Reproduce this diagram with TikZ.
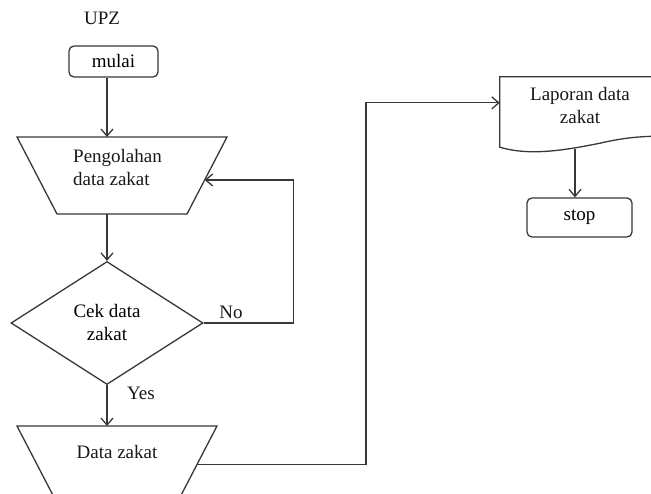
\documentclass[tikz,border=0pt]{standalone}
\usepackage{fontspec}
\setmainfont{Liberation Serif}
\usetikzlibrary{arrows.meta,calc,shapes.geometric}
\begin{document}
\begin{tikzpicture}[x=1pt,y=-1pt,
  line/.style={draw=black!78,line width=1.3pt},
  arr/.style={line,-{Straight Barb[length=7pt,width=12pt]}},
  txt/.style={font=\fontsize{19}{23}\selectfont,text=black!90,inner sep=0pt},
  term/.style={line,rounded corners=5pt,minimum width=#1,minimum height=31pt,inner sep=0pt,font=\fontsize{19}{23}\selectfont},
  box/.style={minimum width=#1,minimum height=77pt,inner sep=0pt,outer sep=0pt},
  dia/.style={line,diamond,inner sep=0pt,minimum width=192pt,minimum height=123pt,align=center,font=\fontsize{19}{23}\selectfont}
]
\useasboundingbox (0,0) rectangle (651,494);
\clip (0,0) rectangle (651,494);
\fill[white] (0,0) rectangle (651,494);

\node[txt] (upz) at (102,18) {UPZ};
\node[term=89pt] (mulai) at (113.5,61.5) {mulai};

% Pengolahan data zakat (inverted trapezoid)
\node[box=210pt] (pg) at (122,175.5) {};
\coordinate (pgbr) at ($(pg.south east)+(-40,0)$);
\coordinate (pgbl) at ($(pg.south west)+(40,0)$);
\path[line] (pg.north west) -- (pg.north east) -- (pgbr) -- (pgbl) -- cycle;
\coordinate (pgin) at ($(pg.north east)!0.558!(pgbr)$);
\node[txt,anchor=west,align=left] (pgt) at (73,168) {Pengolahan\\data zakat};

\node[dia] (dec) at (107,323) {Cek data\\zakat};

% Data zakat (inverted trapezoid, cut off by the page)
\node[box=200pt] (dz) at (117,464.5) {};
\coordinate (dzbr) at ($(dz.south east)+(-40,0)$);
\coordinate (dzbl) at ($(dz.south west)+(40,0)$);
\path[line] (dz.north west) -- (dz.north east) -- (dzbr) -- (dzbl) -- cycle;
\coordinate (dzout) at ($(dz.north east)!0.5!(dzbr)$);
\node[txt] (dzt) at (117,452) {Data zakat};

% Laporan data zakat (document)
\node[minimum width=160pt,minimum height=70pt,inner sep=0pt] (doc) at (580,112) {};
\path[line] (doc.south west) -- (doc.north west) -- (doc.north east) -- ($(doc.south east)+(0,-11)$)
  .. controls ($(doc.south east)+(-15,-11)$) and ($(doc.south east)+(-35,-10)$) .. ($(doc.south)+(20,-4)$)
  .. controls ($(doc.south)+(-15,3)$) and ($(doc.south west)+(30,9)$) .. (doc.south west) -- cycle;
\node[txt,align=center] (doct) at (580,106) {Laporan data\\zakat};
\coordinate (docin) at ($(doc.north west)!0.37!(doc.south west)$);
\coordinate (docb) at ($(doc.south)+(-5,2)$);

\node[term=105pt,minimum height=39pt] (stop) at (579.5,217.5) {stop};

\draw[arr] (mulai.south -| dec.north) -- (pg.north -| dec.north);
\draw[arr] (pg.south -| dec.north) -- (dec.north);
\draw[arr] (dec.south) -- (dz.north -| dec.south);
\draw[arr] (dec.east) -- ++(90,0) |- (pgin);
\draw[arr] (dzout) -- ++(169,0) |- (docin);
\draw[arr] (docb) -- (stop.north -| docb);

\node[txt] (no) at (231,312) {No};
\node[txt] (yes) at (141,393) {Yes};
\end{tikzpicture}
\end{document}
